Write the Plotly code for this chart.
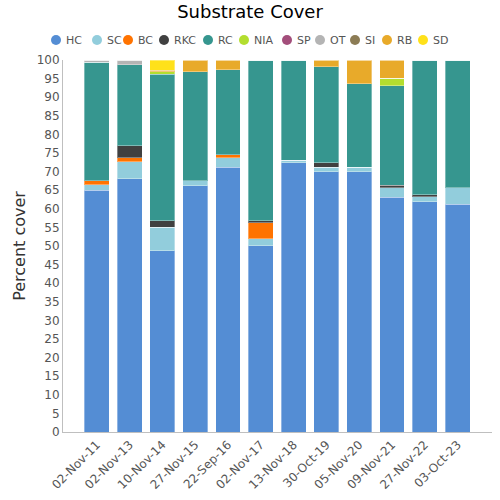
import plotly.graph_objects as go

dates = ["02-Nov-11", "02-Nov-13", "10-Nov-14", "27-Nov-15", "22-Sep-16", "02-Nov-17",
         "13-Nov-18", "30-Oct-19", "05-Nov-20", "09-Nov-21", "27-Nov-22", "03-Oct-23"]

HC = [65.0, 68.1, 48.7, 66.2, 71.2, 50.1, 72.4, 70.0, 70.0, 63.1, 61.9, 61.2]
SC = [1.4, 4.5, 6.3, 1.4, 2.5, 1.9, 0.7, 1.2, 1.2, 2.6, 1.3, 4.5]
BC = [1.2, 1.1, 0, 0, 0.8, 4.3, 0, 0, 0, 0, 0, 0]
RKC = [0, 3.2, 1.8, 0, 0, 0.5, 0, 1.2, 0, 0.6, 0.6, 0]
RC = [31.8, 21.8, 39.4, 29.3, 22.9, 43.2, 26.9, 25.8, 22.4, 26.8, 36.2, 34.3]
NIA = [0, 0, 0.7, 0, 0, 0, 0, 0, 0, 2.0, 0, 0]
SP = [0] * 12
OT = [0.6, 1.3, 0, 0, 0, 0, 0, 0, 0, 0, 0, 0]
SI = [0] * 12
RB = [0, 0, 0.4, 3.1, 2.6, 0, 0, 1.8, 6.4, 4.9, 0, 0]
SD = [0, 0, 2.7, 0, 0, 0, 0, 0, 0, 0, 0, 0]

series = [
    ("HC", HC, "#548DD4"),
    ("SC", SC, "#92CDDC"),
    ("BC", BC, "#FF7300"),
    ("RKC", RKC, "#404040"),
    ("RC", RC, "#36968F"),
    ("NIA", NIA, "#B3DE2F"),
    ("SP", SP, "#A34E7B"),
    ("OT", OT, "#B4B4B4"),
    ("SI", SI, "#8C7C55"),
    ("RB", RB, "#E8AA2A"),
    ("SD", SD, "#FFE11A"),
]

# legend item centres (pixels)
legend_px = [56, 97, 128, 164, 208, 244, 287, 320, 355, 387, 423]

W, H = 500, 500
ML, MR, MT, MB = 63, 8, 60, 68
pw, ph = W - ML - MR, H - MT - MB

fig = go.Figure()
shapes, annos = [], []
for (name, vals, col), px in zip(series, legend_px):
    fig.add_trace(go.Bar(
        x=dates, y=vals, name=name,
        marker=dict(color=col, line=dict(color="rgba(255,255,255,0.35)", width=1)),
    ))
    xp = (px - ML) / pw
    yp = (MT + ph - 40) / ph
    shapes.append(dict(type="circle", xref="paper", yref="paper", xsizemode="pixel",
                       ysizemode="pixel", xanchor=xp, yanchor=yp, x0=-5, x1=5, y0=-5, y1=5,
                       fillcolor=col, line=dict(width=0)))
    annos.append(dict(text=name, xref="paper", yref="paper", x=(px + 8 - ML) / pw, y=yp,
                      xanchor="left", yanchor="middle", showarrow=False,
                      font=dict(size=11, color="#555555")))

fig.update_layout(
    barmode="stack",
    bargap=0.24,
    width=W, height=H,
    plot_bgcolor="white", paper_bgcolor="white",
    margin=dict(l=ML, r=MR, t=MT, b=MB),
    font=dict(family="DejaVu Sans", size=12, color="#555555"),
    title=dict(text="Substrate Cover", x=0.5, xanchor="center", y=1 - 12 / H, yanchor="middle",
               font=dict(family="DejaVu Sans", size=18, color="#000000")),
    showlegend=False,
    shapes=shapes,
    annotations=annos,
)
fig.update_xaxes(range=[-1.03, 12.05], tickangle=-45, showline=True, linecolor="#BFBFBF",
                 linewidth=1, showgrid=False, ticks="", tickfont=dict(size=12, color="#555555"))
fig.update_yaxes(range=[0, 100], dtick=5, showline=True, linecolor="#BFBFBF", linewidth=1,
                 showgrid=False, ticks="", tickfont=dict(size=12, color="#555555"),
                 title=dict(text="Percent cover", font=dict(size=16, color="#333333"), standoff=7))

fig.write_html("out.html", config={"displayModeBar": False},
               post_script="document.body.style.margin='0px';")
